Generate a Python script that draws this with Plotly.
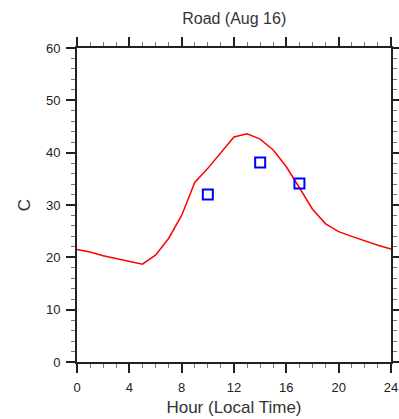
import plotly.graph_objects as go

hours = list(range(25))
road_model = [21.5, 21.0, 20.3, 19.8, 19.3, 18.7, 20.4, 23.6, 28.0, 34.3, 37.0, 40.0,
              43.0, 43.6, 42.6, 40.5, 37.3, 33.3, 29.2, 26.4, 24.9, 24.0, 23.1, 22.3, 21.6]
obs_hours = [10, 14, 17]
obs_values = [32.0, 38.1, 34.1]

x_ticks = [0, 4, 8, 12, 16, 20, 24]
y_ticks = [0, 10, 20, 30, 40, 50, 60]

fig = go.Figure()
fig.add_trace(go.Scatter(x=hours, y=road_model, mode="lines",
                         line=dict(color="#ff0000", width=1.5), showlegend=False))
fig.add_trace(go.Scatter(x=obs_hours, y=obs_values, mode="markers",
                         marker=dict(symbol="square-open", size=10, color="#0000ff",
                                     line=dict(width=2, color="#0000ff")),
                         showlegend=False))

axis_common = dict(showline=True, linecolor="#222", linewidth=2, mirror="allticks",
                   ticks="outside", ticklen=9, tickwidth=2, tickcolor="#222",
                   showgrid=False, zeroline=False, automargin=False,
                   ticklabelstandoff=3,
                   tickfont=dict(family="Liberation Sans", size=13, color="#222"))

fig.update_xaxes(range=[0, 24], tickvals=x_ticks, ticktext=[str(v) for v in x_ticks],
                 minor=dict(dtick=1, ticks="outside", ticklen=4, tickwidth=1, tickcolor="#777",
                            showgrid=False),
                 title=dict(text="Hour (Local Time)", font=dict(family="Liberation Sans", size=17, color="#333"),
                            standoff=8),
                 **axis_common)
fig.update_yaxes(range=[0, 60], tickvals=y_ticks, ticktext=[str(v) for v in y_ticks],
                 minor=dict(dtick=2, ticks="outside", ticklen=4, tickwidth=1, tickcolor="#777",
                            showgrid=False),
                 title=dict(text="C", font=dict(family="Liberation Sans", size=17, color="#333"),
                            standoff=11),
                 **axis_common)

fig.update_layout(
    width=399, height=419,
    margin=dict(l=77, r=8, t=48, b=57),
    plot_bgcolor="white", paper_bgcolor="white",
    title=dict(text="Road (Aug 16)", x=0.587, xanchor="center", y=0.957, yanchor="middle",
               font=dict(family="Liberation Sans", size=16, color="#333")),
)

fig.write_html("out.html")
